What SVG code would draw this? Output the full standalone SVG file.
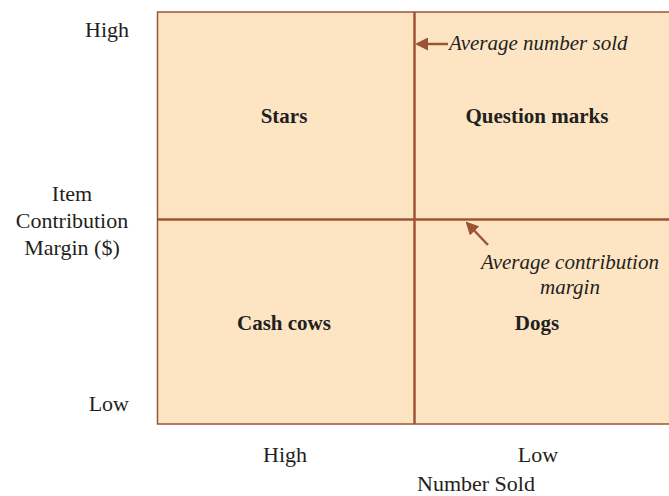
<svg xmlns="http://www.w3.org/2000/svg" width="669" height="496" viewBox="0 0 669 496">
<style>
text{font-family:"Liberation Serif","Times New Roman",serif;fill:#231f20;}
.ax{font-size:22px;}
.q{font-size:21px;font-weight:bold;text-anchor:middle;}
.note{font-size:21px;font-style:italic;}
.line{stroke:#9c5436;stroke-width:2.5;fill:none;}
</style>
<defs>
<marker id="ah" markerWidth="13" markerHeight="13" refX="11" refY="6.5" orient="auto" markerUnits="userSpaceOnUse">
<path d="M0,0 L13,6.5 L0,13 Z" fill="#9c5436"/>
</marker>
</defs>
<g id="grid">
<rect x="157.5" y="12" width="520" height="412" fill="#fde5c4" stroke="#9c5436" stroke-width="1.5"/>
</g>
<g id="quadrants">
<g id="stars"><text class="q" x="284" y="123">Stars</text></g>
<g id="question-marks"><text class="q" x="537" y="123">Question marks</text></g>
<g id="cash-cows"><text class="q" x="284" y="330">Cash cows</text></g>
<g id="dogs"><text class="q" x="537" y="330">Dogs</text></g>
</g>
<g id="connectors">
<line class="line" x1="448" y1="44" x2="417" y2="44" marker-end="url(#ah)"/>
<line class="line" x1="488" y1="245" x2="467" y2="223" marker-end="url(#ah)"/>
<line class="line" x1="414.5" y1="12" x2="414.5" y2="424"/>
<line class="line" x1="157.5" y1="219.5" x2="669" y2="219.5"/>
</g>
<g id="notes">
<text class="note" x="449" y="50">Average number sold</text>
<text class="note" x="570" y="269" text-anchor="middle">Average contribution</text>
<text class="note" x="570" y="294" text-anchor="middle">margin</text>
</g>
<g id="axes">
<text class="ax" x="129" y="37" text-anchor="end">High</text>
<text class="ax" x="129" y="411" text-anchor="end">Low</text>
<text class="ax" x="72" y="201" text-anchor="middle">Item</text>
<text class="ax" x="72" y="228" text-anchor="middle">Contribution</text>
<text class="ax" x="72" y="255" text-anchor="middle">Margin ($)</text>
<text class="ax" x="285" y="462" text-anchor="middle">High</text>
<text class="ax" x="538" y="462" text-anchor="middle">Low</text>
<text class="ax" x="476" y="491" text-anchor="middle">Number Sold</text>
</g>
</svg>
